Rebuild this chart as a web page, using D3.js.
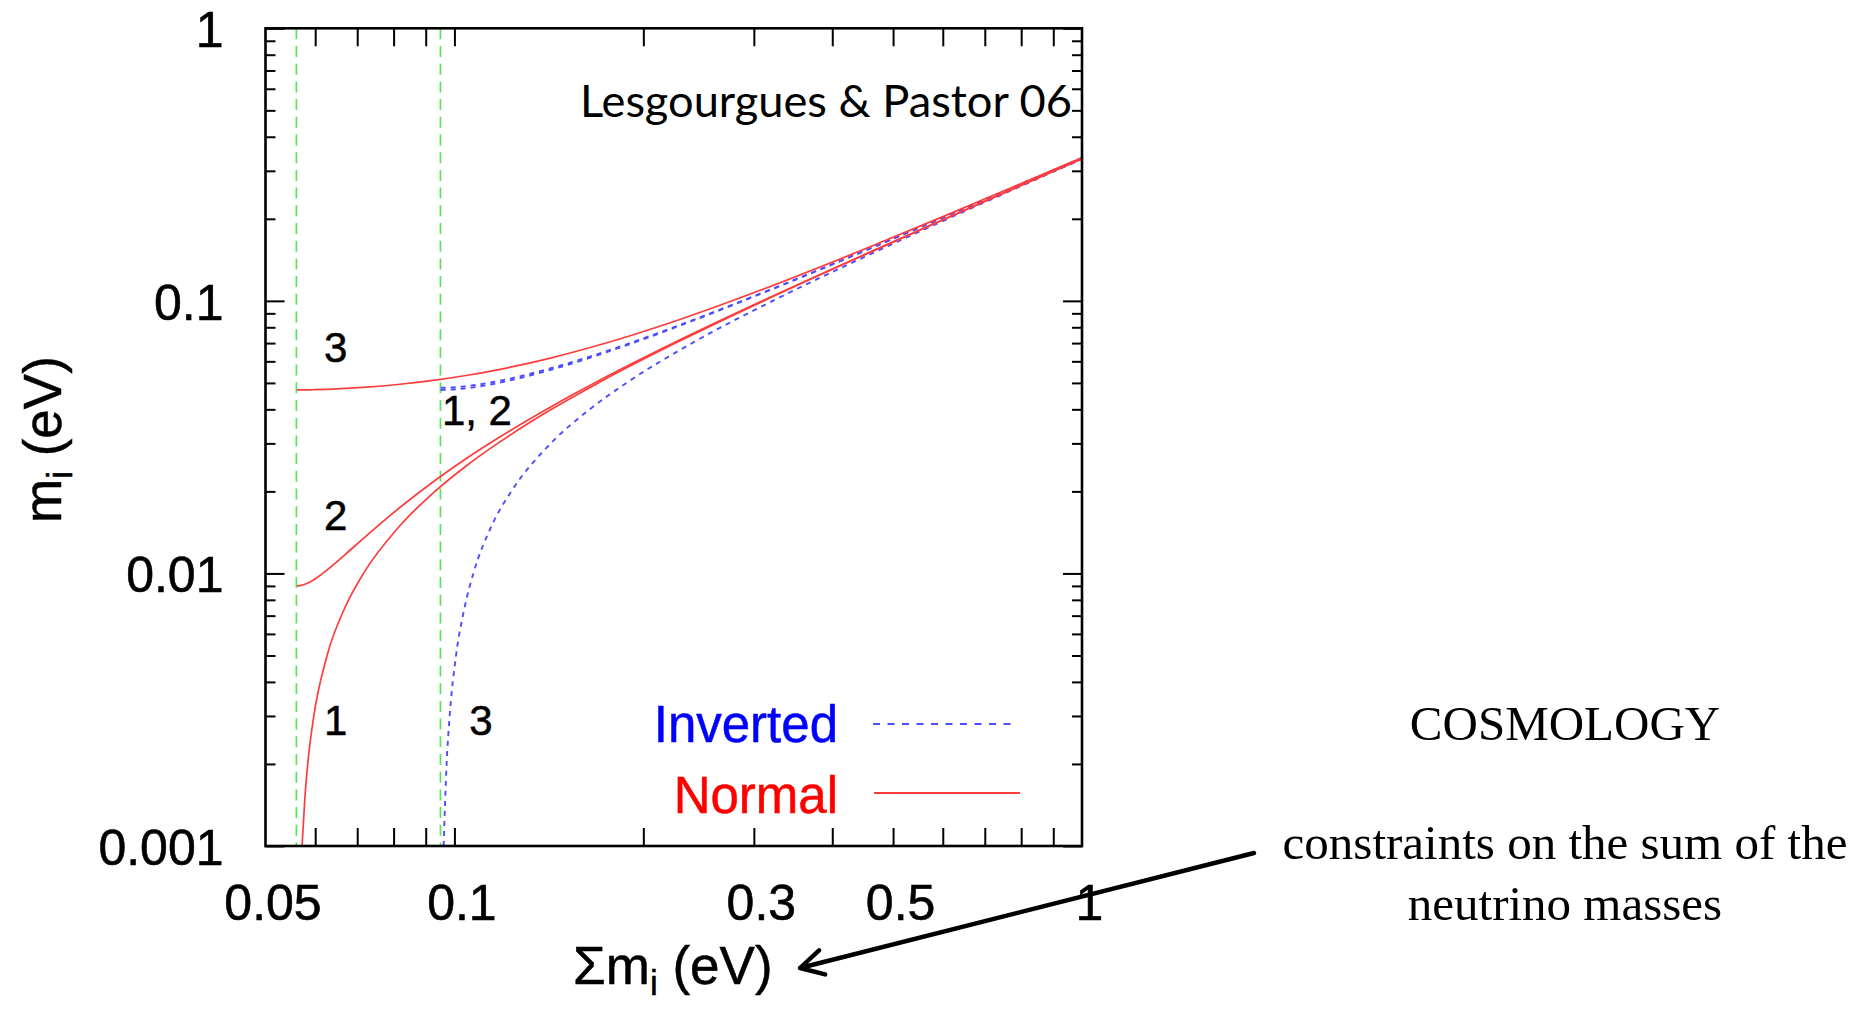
<!DOCTYPE html>
<html>
<head>
<meta charset="utf-8">
<script src="https://cdn.jsdelivr.net/npm/d3@7"></script>
<style>
  html, body { margin: 0; padding: 0; background: #fff; }
  svg { display: block; }
</style>
</head>
<body>
<svg id="chart" width="1869" height="1010"></svg>
<script>
// ---- Normal hierarchy: sum of masses and the three mass eigenvalues (eV)
const normalSum = [0.05612, 0.05718, 0.05777, 0.05838, 0.05970, 0.06268, 0.06693, 0.07162, 0.08194, 0.09312, 0.1049, 0.1172, 0.1428, 0.1695, 0.2250, 0.3109, 0.4575, 0.6057, 0.7546, 0.9038, 1.0024];
const normalM1  = [null, 0.001, 0.0015, 0.002, 0.003, 0.005, 0.0075, 0.01, 0.015, 0.02, 0.025, 0.03, 0.04, 0.05, 0.07, 0.1, 0.15, 0.2, 0.25, 0.3, 0.333];
const normalM2  = [0.00900, 0.009055, 0.009124, 0.009220, 0.009487, 0.01030, 0.01172, 0.01345, 0.01749, 0.02193, 0.02657, 0.03132, 0.04100, 0.05080, 0.07058, 0.1004, 0.1503, 0.2002, 0.2502, 0.3001, 0.3331];
const normalM3  = [0.04712, 0.04713, 0.04714, 0.04716, 0.04721, 0.04738, 0.04771, 0.04817, 0.04945, 0.05119, 0.05334, 0.05586, 0.06181, 0.06870, 0.08438, 0.1105, 0.1572, 0.2055, 0.2544, 0.3037, 0.3363];

// ---- Inverted hierarchy
const invertedSum = [0.09509, 0.09611, 0.09717, 0.09827, 0.1006, 0.1038, 0.1072, 0.1147, 0.1232, 0.1424, 0.1643, 0.1880, 0.2392, 0.3215, 0.4647, 0.6111, 0.7590, 0.9075, 1.0091];
const invertedM1  = [0.04712, 0.04713, 0.04716, 0.04721, 0.04738, 0.04771, 0.04817, 0.04945, 0.05119, 0.05586, 0.06181, 0.06870, 0.08438, 0.1105, 0.1572, 0.2055, 0.2544, 0.3037, 0.3373];
const invertedM2  = [0.04797, 0.04798, 0.04801, 0.04806, 0.04823, 0.04855, 0.04900, 0.05026, 0.05197, 0.05658, 0.06246, 0.06929, 0.08486, 0.1109, 0.1575, 0.2057, 0.2546, 0.3038, 0.3378];
const invertedM3  = [null, 0.001, 0.002, 0.003, 0.005, 0.0075, 0.01, 0.015, 0.02, 0.03, 0.04, 0.05, 0.07, 0.1, 0.15, 0.2, 0.25, 0.3, 0.334];

// ---- minimal sums for each ordering (vertical markers)
const minimalSums = [0.056, 0.095];

// ---- ticks
const xTickLabels = [0.05, 0.1, 0.3, 0.5, 1];
const xTickMarks  = [0.06, 0.07, 0.08, 0.09, 0.1, 0.2, 0.3, 0.4, 0.5, 0.6, 0.7, 0.8, 0.9];
const yTickLabels = [0.001, 0.01, 0.1, 1];
const yMinorMarks = [2, 3, 4, 5, 6, 7, 8, 9].flatMap(k => [0.001, 0.01, 0.1].map(d => +(k * d).toPrecision(3)));

// ---- curve labels (placed in data coordinates)
const curveLabels = [
  { text: "3",    sum: 0.0647, mass: 0.0678 },
  { text: "2",    sum: 0.0647, mass: 0.0164 },
  { text: "1",    sum: 0.0647, mass: 0.0029 },
  { text: "1, 2", sum: 0.1086, mass: 0.0398 },
  { text: "3",    sum: 0.1102, mass: 0.0029 }
];

const SANS = "'Liberation Sans', Arial, Helvetica, sans-serif";
const SERIF = "'Liberation Serif', 'Times New Roman', serif";

const svg = d3.select("#chart");
const plot = { left: 265.5, right: 1082, top: 28.3, bottom: 846 };

const x = d3.scaleLog().domain([0.05, 1]).range([plot.left, plot.right]);
const y = d3.scaleLog().domain([0.001, 1]).range([plot.bottom, plot.top]);

svg.append("defs").append("clipPath").attr("id", "plotClip")
  .append("rect")
  .attr("x", plot.left).attr("y", plot.top)
  .attr("width", plot.right - plot.left).attr("height", plot.bottom - plot.top);

// ---- vertical markers at the minimal sums
svg.append("g").selectAll("line").data(minimalSums).join("line")
  .attr("x1", d => x(d)).attr("x2", d => x(d))
  .attr("y1", plot.top).attr("y2", plot.bottom)
  .attr("stroke", "#55e655").attr("stroke-width", 1.7)
  .attr("stroke-dasharray", "11,6.7");

// ---- curves
const curves = svg.append("g").attr("clip-path", "url(#plotClip)");
function series(sums, masses) {
  return sums.map((s, i) => ({ s, m: masses[i] }));
}
const line = d3.line()
  .defined(d => d.m != null)
  .x(d => x(d.s)).y(d => y(d.m))
  .curve(d3.curveMonotoneX);

[invertedM1, invertedM2, invertedM3].forEach(ms => {
  curves.append("path")
    .attr("d", line(series(invertedSum, ms)))
    .attr("fill", "none").attr("stroke", "#4d4dff")
    .attr("stroke-width", 1.9).attr("stroke-dasharray", "5,5");
});
[normalM1, normalM2, normalM3].forEach(ms => {
  curves.append("path")
    .attr("d", line(series(normalSum, ms)))
    .attr("fill", "none").attr("stroke", "#ff3c3c")
    .attr("stroke-width", 1.7);
});

// ---- axes: inward ticks on all four sides
function styleAxis(g) {
  g.select(".domain").remove();
  g.selectAll(".tick line").attr("stroke", "#000").attr("stroke-width", 2);
}
svg.append("g").attr("transform", `translate(0,${plot.bottom})`)
  .call(d3.axisBottom(x).tickValues(xTickMarks).tickSize(-18).tickFormat(""))
  .call(styleAxis);
svg.append("g").attr("transform", `translate(0,${plot.top})`)
  .call(d3.axisTop(x).tickValues(xTickMarks).tickSize(-18).tickFormat(""))
  .call(styleAxis);
svg.append("g").attr("transform", `translate(${plot.left},0)`)
  .call(d3.axisLeft(y).tickValues(yMinorMarks).tickSize(-10).tickFormat(""))
  .call(styleAxis);
svg.append("g").attr("transform", `translate(${plot.left},0)`)
  .call(d3.axisLeft(y).tickValues(yTickLabels).tickSize(-19).tickFormat(""))
  .call(styleAxis);
svg.append("g").attr("transform", `translate(${plot.right},0)`)
  .call(d3.axisRight(y).tickValues(yMinorMarks).tickSize(-10).tickFormat(""))
  .call(styleAxis);
svg.append("g").attr("transform", `translate(${plot.right},0)`)
  .call(d3.axisRight(y).tickValues(yTickLabels).tickSize(-19).tickFormat(""))
  .call(styleAxis);

// tick labels
const xLab = svg.append("g").attr("transform", `translate(0,${plot.bottom})`)
  .call(d3.axisBottom(x).tickValues(xTickLabels).tickSize(0).tickFormat(d => String(d)));
xLab.select(".domain").remove();
xLab.selectAll(".tick text")
  .attr("y", 74).attr("dy", 0).attr("dx", 7)
  .attr("fill", "#000").attr("stroke", "#000").attr("stroke-width", 0.6)
  .style("font-family", SANS).style("font-size", "50px");

const yLab = svg.append("g").attr("transform", `translate(${plot.left},0)`)
  .call(d3.axisLeft(y).tickValues(yTickLabels).tickSize(0).tickFormat(d => String(d)));
yLab.select(".domain").remove();
yLab.selectAll(".tick text")
  .attr("x", -42).attr("dy", "0.37em")
  .attr("fill", "#000").attr("stroke", "#000").attr("stroke-width", 0.6)
  .style("font-family", SANS).style("font-size", "50px");

// frame
svg.append("rect")
  .attr("x", plot.left).attr("y", plot.top)
  .attr("width", plot.right - plot.left).attr("height", plot.bottom - plot.top)
  .attr("fill", "none").attr("stroke", "#000").attr("stroke-width", 2.6);

// ---- axis titles
const xt = svg.append("text")
  .attr("x", 573).attr("y", 984)
  .style("font-family", SANS).style("font-size", "53px")
  .attr("fill", "#000").attr("stroke", "#000").attr("stroke-width", 0.5);
xt.append("tspan").text("Σm");
xt.append("tspan").attr("dy", 11).style("font-size", "35px").text("i");
xt.append("tspan").attr("dy", -11).text(" (eV)");

const yt = svg.append("text")
  .attr("transform", "translate(61,523) rotate(-90)")
  .style("font-family", SANS).style("font-size", "53px")
  .attr("fill", "#000").attr("stroke", "#000").attr("stroke-width", 0.5);
yt.append("tspan").text("m");
yt.append("tspan").attr("dy", 11).style("font-size", "35px").text("i");
yt.append("tspan").attr("dy", -11).text(" (eV)");

// ---- curve labels
svg.append("g").selectAll("text").data(curveLabels).join("text")
  .attr("x", d => x(d.sum)).attr("y", d => y(d.mass))
  .attr("text-anchor", "middle").attr("dy", "0.36em")
  .style("font-family", SANS).style("font-size", "42px")
  .attr("fill", "#000").attr("stroke", "#000").attr("stroke-width", 0.5)
  .text(d => d.text);

// ---- citation
svg.append("text")
  .attr("x", 580).attr("y", 117)
  .attr("textLength", 492).attr("lengthAdjust", "spacingAndGlyphs")
  .style("font-family", "Lato, 'Open Sans', sans-serif").style("font-size", "45px")
  .attr("fill", "#000")
  .text("Lesgourgues & Pastor 06");

// ---- legend
const legend = svg.append("g");
legend.append("text").attr("x", 838).attr("y", 742).attr("text-anchor", "end")
  .style("font-family", SANS).style("font-size", "51px")
  .attr("fill", "#0000ff").attr("stroke", "#0000ff").attr("stroke-width", 0.5)
  .text("Inverted");
legend.append("line").attr("x1", 873).attr("x2", 1015).attr("y1", 724).attr("y2", 724)
  .attr("stroke", "#4d4dff").attr("stroke-width", 1.9).attr("stroke-dasharray", "7,7.5");
legend.append("text").attr("x", 838).attr("y", 813).attr("text-anchor", "end")
  .style("font-family", SANS).style("font-size", "51px")
  .attr("fill", "#ff0000").attr("stroke", "#ff0000").attr("stroke-width", 0.5)
  .text("Normal");
legend.append("line").attr("x1", 874).attr("x2", 1020).attr("y1", 793).attr("y2", 793)
  .attr("stroke", "#ff3c3c").attr("stroke-width", 1.8);

// ---- annotation on the right
const note = svg.append("g")
  .style("font-family", SERIF).style("font-size", "49px").attr("fill", "#000")
  .attr("text-anchor", "middle");
note.append("text").attr("x", 1565).attr("y", 740).text("COSMOLOGY");
note.append("text").attr("x", 1565).attr("y", 859).text("constraints on the sum of the");
note.append("text").attr("x", 1565).attr("y", 920).text("neutrino masses");

// arrow pointing at the x-axis title
const tail = [1254, 853], tip = [800, 968];
const ang = Math.atan2(tail[1] - tip[1], tail[0] - tip[0]);
const headLen = 26, spread = 0.5;
const h1 = [tip[0] + headLen * Math.cos(ang + spread), tip[1] + headLen * Math.sin(ang + spread)];
const h2 = [tip[0] + headLen * Math.cos(ang - spread), tip[1] + headLen * Math.sin(ang - spread)];
svg.append("path")
  .attr("d", `M${tail}L${tip}M${h1}L${tip}L${h2}`)
  .attr("fill", "none").attr("stroke", "#000").attr("stroke-width", 4.4)
  .attr("stroke-linecap", "round").attr("stroke-linejoin", "round");
</script>
</body>
</html>
